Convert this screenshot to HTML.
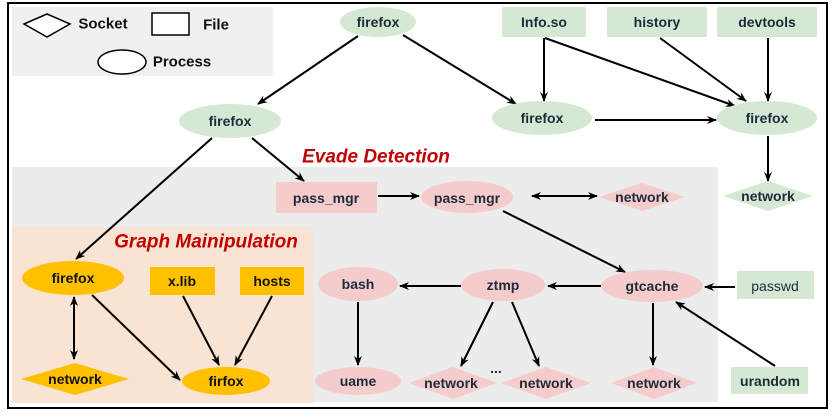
<!DOCTYPE html>
<html><head><meta charset="utf-8"><style>
html,body{margin:0;padding:0;background:#fff;}
svg{display:block;font-family:"Liberation Sans",sans-serif;}
text{font-weight:bold;font-size:14px;fill:#1f2a3a;text-anchor:middle;dominant-baseline:central;}
</style></head><body>
<svg width="837" height="417" viewBox="0 0 837 417" xmlns="http://www.w3.org/2000/svg">
<defs>
<marker id="a" markerWidth="10" markerHeight="10" refX="9" refY="5" orient="auto" markerUnits="userSpaceOnUse"><path d="M0,1 L10,5 L0,9 L3,5 Z" fill="#000"/></marker>
<marker id="s" markerWidth="10" markerHeight="10" refX="1" refY="5" orient="auto" markerUnits="userSpaceOnUse"><path d="M10,1 L0,5 L10,9 L7,5 Z" fill="#000"/></marker>
</defs>
<rect x="8" y="3" width="819" height="405" fill="#fff" stroke="#000" stroke-width="2"/>
<rect x="12" y="7" width="261" height="69" fill="#f0f0f0"/>
<rect x="12" y="167" width="706" height="235" fill="#ececec"/>
<rect x="12" y="227" width="301" height="176" fill="#f9e4d4"/>
<!-- legend -->
<polygon points="24,24 47,14 70,24 47,37" fill="#fff" stroke="#000" stroke-width="1.5"/>
<text x="103" y="24" style="font-size:15px;fill:#111">Socket</text>
<rect x="152" y="13" width="37" height="22" fill="#fff" stroke="#000" stroke-width="1.5"/>
<text x="216" y="25" style="font-size:15px;fill:#111">File</text>
<ellipse cx="122" cy="62" rx="24" ry="12" fill="#fff" stroke="#000" stroke-width="1.5"/>
<text x="182" y="62" style="font-size:15px;fill:#111">Process</text>
<g stroke="#000" stroke-width="2" fill="none">
<line x1="358" y1="36" x2="258" y2="104" marker-end="url(#a)"/>
<line x1="403" y1="35" x2="516" y2="104" marker-end="url(#a)"/>
<line x1="544" y1="38" x2="544" y2="101" marker-end="url(#a)"/>
<line x1="545" y1="38" x2="735" y2="106" marker-end="url(#a)"/>
<line x1="660" y1="38" x2="746" y2="101" marker-end="url(#a)"/>
<line x1="768" y1="38" x2="768" y2="101" marker-end="url(#a)"/>
<line x1="595" y1="120" x2="716" y2="120" marker-end="url(#a)"/>
<line x1="768" y1="136" x2="768" y2="181" marker-end="url(#a)"/>
<line x1="252" y1="138" x2="304" y2="181" marker-end="url(#a)"/>
<line x1="212" y1="138" x2="76" y2="259" marker-end="url(#a)"/>
<line x1="378" y1="196" x2="419" y2="196" marker-end="url(#a)"/>
<line x1="532" y1="196" x2="597" y2="196" marker-start="url(#s)" marker-end="url(#a)"/>
<line x1="503" y1="211" x2="625" y2="272" marker-end="url(#a)"/>
<line x1="735" y1="287" x2="705" y2="287" marker-end="url(#a)"/>
<line x1="775" y1="366" x2="676" y2="302" marker-end="url(#a)"/>
<line x1="601" y1="286" x2="548" y2="286" marker-end="url(#a)"/>
<line x1="461" y1="286" x2="400" y2="286" marker-end="url(#a)"/>
<line x1="358" y1="302" x2="358" y2="365" marker-end="url(#a)"/>
<line x1="653" y1="303" x2="653" y2="365" marker-end="url(#a)"/>
<line x1="493" y1="302" x2="461" y2="366" marker-end="url(#a)"/>
<line x1="512" y1="302" x2="539" y2="366" marker-end="url(#a)"/>
<line x1="74" y1="297" x2="74" y2="359" marker-start="url(#s)" marker-end="url(#a)"/>
<line x1="92" y1="295" x2="180" y2="380" marker-end="url(#a)"/>
<line x1="183" y1="296" x2="219" y2="365" marker-end="url(#a)"/>
<line x1="272" y1="296" x2="235" y2="365" marker-end="url(#a)"/>
</g>
<!-- green nodes -->
<ellipse cx="378" cy="22" rx="38" ry="15" fill="#d5e8d4"/><text x="378" y="22">firefox</text>
<rect x="502" y="7" width="84" height="30" fill="#d5e8d4"/><text x="544" y="22">Info.so</text>
<rect x="607" y="7" width="100" height="30" fill="#d5e8d4"/><text x="657" y="22">history</text>
<rect x="717" y="7" width="100" height="30" fill="#d5e8d4"/><text x="767" y="22">devtools</text>
<ellipse cx="230" cy="121" rx="51" ry="17" fill="#d5e8d4"/><text x="230" y="121">firefox</text>
<ellipse cx="542" cy="118" rx="50" ry="17" fill="#d5e8d4"/><text x="542" y="118">firefox</text>
<ellipse cx="767" cy="118" rx="50" ry="17" fill="#d5e8d4"/><text x="767" y="118">firefox</text>
<polygon points="723,196 768,181 813,196 768,211" fill="#d5e8d4"/><text x="768" y="196">network</text>
<rect x="737" y="271" width="77" height="28" fill="#d5e8d4"/><text x="775" y="286" style="font-weight:normal">passwd</text>
<rect x="731" y="367" width="77" height="27" fill="#d5e8d4"/><text x="770" y="381">urandom</text>
<!-- pink -->
<rect x="276" y="182" width="101" height="31" fill="#f4cccc"/><text x="326" y="198">pass_mgr</text>
<ellipse cx="467" cy="197" rx="46" ry="16" fill="#f4cccc"/><text x="467" y="198">pass_mgr</text>
<polygon points="599,197 642,183 685,197 642,211" fill="#f4cccc"/><text x="642" y="197">network</text>
<ellipse cx="358" cy="284" rx="40" ry="17" fill="#f4cccc"/><text x="358" y="284">bash</text>
<ellipse cx="358" cy="381" rx="43" ry="14" fill="#f4cccc"/><text x="358" y="381">uame</text>
<ellipse cx="503" cy="285" rx="42" ry="16" fill="#f4cccc"/><text x="503" y="285">ztmp</text>
<ellipse cx="652" cy="286" rx="51" ry="16" fill="#f4cccc"/><text x="652" y="286">gtcache</text>
<polygon points="409,383 453,367 497,383 453,399" fill="#f4cccc"/><text x="451" y="383">network</text>
<polygon points="501,383 546,367 591,383 546,399" fill="#f4cccc"/><text x="546" y="383">network</text>
<polygon points="611,383 654,367 697,383 654,399" fill="#f4cccc"/><text x="654" y="383">network</text>
<text x="496" y="368">...</text>
<!-- yellow -->
<ellipse cx="73" cy="278" rx="51" ry="17" fill="#ffc000"/><text x="73" y="278" style="fill:#111">firefox</text>
<rect x="150" y="267" width="65" height="28" fill="#ffc000"/><text x="182" y="281" style="fill:#111">x.lib</text>
<rect x="240" y="267" width="64" height="28" fill="#ffc000"/><text x="272" y="281" style="fill:#111">hosts</text>
<polygon points="21,379 75,363 129,379 75,395" fill="#ffc000"/><text x="75" y="379" style="fill:#111">network</text>
<ellipse cx="226" cy="381" rx="44" ry="14" fill="#ffc000"/><text x="226" y="381" style="fill:#111">firfox</text>
<text x="376" y="157" style="font-size:19px;font-style:italic;fill:#c00000">Evade Detection</text>
<text x="206" y="242" style="font-size:19px;font-style:italic;fill:#c00000">Graph Mainipulation</text>
</svg>
</body></html>
